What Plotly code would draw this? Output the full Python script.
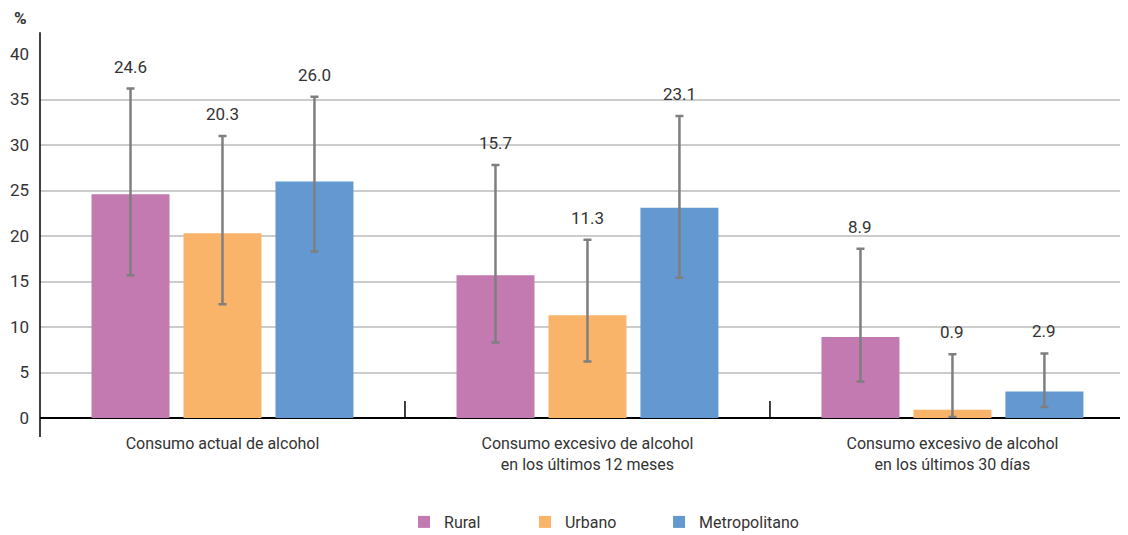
import plotly.graph_objects as go

categories = ["Consumo actual de alcohol",
              "Consumo excesivo de alcohol<br>en los últimos 12 meses",
              "Consumo excesivo de alcohol<br>en los últimos 30 días"]
series_names = ["Rural", "Urbano", "Metropolitano"]
rural = [24.6, 15.7, 8.9]
urbano = [20.3, 11.3, 0.9]
metro = [26.0, 23.1, 2.9]
rural_hi = [36.2, 27.8, 18.6]
rural_lo = [15.7, 8.3, 4.0]
urbano_hi = [31.0, 19.6, 7.0]
urbano_lo = [12.5, 6.2, 0.1]
metro_hi = [35.3, 33.2, 7.1]
metro_lo = [18.3, 15.4, 1.2]
colors = ["#C27AB0", "#F9B46A", "#6398D0"]
y_ticks = [0, 5, 10, 15, 20, 25, 30, 35, 40]

FONT = "Roboto, Arial, sans-serif"
TXT = "#333333"

values = [rural, urbano, metro]
his = [rural_hi, urbano_hi, metro_hi]
los = [rural_lo, urbano_lo, metro_lo]
legend_ids = ["legend", "legend2", "legend3"]
legend_x = [0.3536, 0.4616, 0.5813]

bargap = 0.244
groupgap = 0.152

fig = go.Figure()
for name, v, hi, lo, c, lg in zip(series_names, values, his, los, colors, legend_ids):
    fig.add_trace(go.Bar(
        name=name, x=categories, y=v, marker_color=c, marker_line_width=0,
        legend=lg,
        error_y=dict(type="data", symmetric=False,
                     array=[h - a for h, a in zip(hi, v)],
                     arrayminus=[a - l for a, l in zip(v, lo)],
                     color="#7F7F7F", thickness=2.5, width=4),
    ))

slot = (1 - bargap) / 3
for k, (v, hi) in enumerate(zip(values, his)):
    for i, (a, h) in enumerate(zip(v, hi)):
        fig.add_annotation(x=i + (k - 1) * slot, y=h, xref="x", yref="y",
                           text=f"{a:.1f}", showarrow=False, yanchor="middle",
                           yshift=22, font=dict(family=FONT, size=17, color=TXT))

# category separators (tick marks)
for sep in [0.5, 1.5]:
    fig.add_shape(type="line", xref="x", yref="paper", x0=sep, x1=sep, y0=0, y1=0.047,
                  line=dict(color="black", width=1.5))
# y axis line extended
fig.add_shape(type="line", xref="paper", yref="paper", x0=0, x1=0, y0=-0.052, y1=1.06,
              line=dict(color="black", width=1.5))

fig.add_annotation(x=-0.0257, y=1.099, xref="paper", yref="paper",
                   text="<b>%</b>", showarrow=False, xanchor="left", yanchor="middle",
                   font=dict(family=FONT, size=17, color=TXT))

legend_common = dict(orientation="h", xref="container", yref="container",
                     xanchor="left", y=1 - 514 / 527, yanchor="middle",
                     font=dict(family=FONT, size=16, color=TXT),
                     itemwidth=30, bgcolor="rgba(0,0,0,0)")

fig.update_layout(
    width=1120, height=527,
    margin=dict(l=32, r=0, t=46, b=117, autoexpand=False),
    plot_bgcolor="white", paper_bgcolor="white",
    barmode="group", bargap=bargap, bargroupgap=groupgap,
    font=dict(family=FONT, size=16, color=TXT),
    xaxis=dict(range=[-0.5, 2.481], showgrid=False, showline=False, ticks="",
               automargin=False, ticklabelstandoff=14,
               tickfont=dict(family=FONT, size=16, color=TXT)),
    yaxis=dict(range=[0, 40], tickvals=y_ticks, showgrid=True, gridcolor="#CCCCCC",
               gridwidth=1.5, zeroline=True, zerolinecolor="black", zerolinewidth=1.5,
               showline=False, ticks="", ticklabelstandoff=10, automargin=False,
               tickfont=dict(family=FONT, size=17, color=TXT)),
    legend=dict(x=legend_x[0], **legend_common),
    legend2=dict(x=legend_x[1], **legend_common),
    legend3=dict(x=legend_x[2], **legend_common),
    showlegend=True,
)

fig.write_html("out.html")
